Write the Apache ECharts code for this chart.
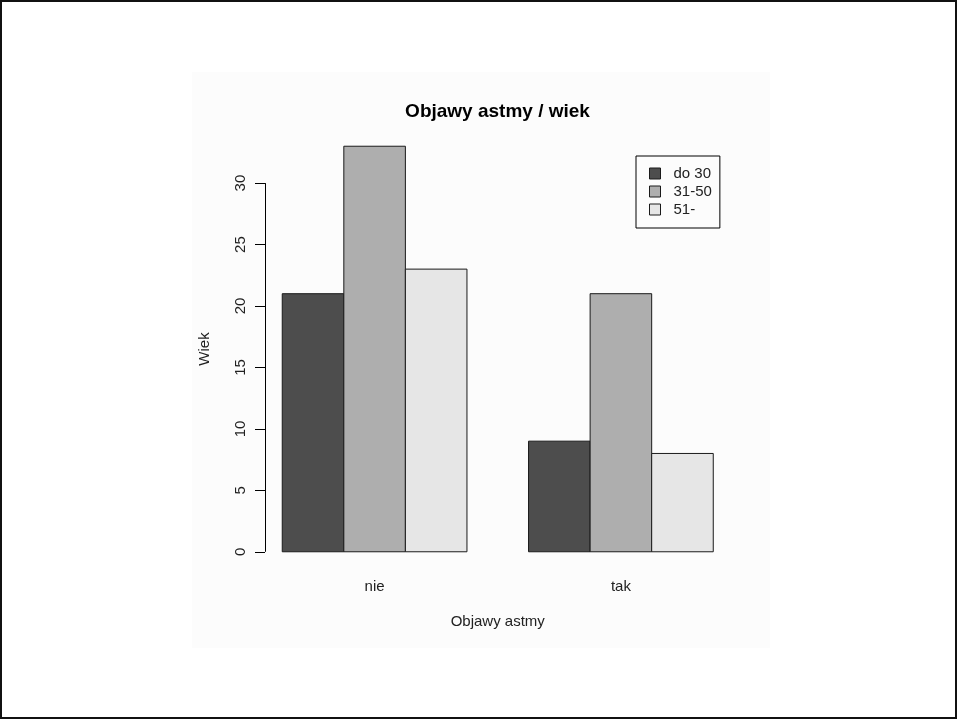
<!DOCTYPE html>
<html>
<head>
<meta charset="utf-8">
<script src="https://cdn.jsdelivr.net/npm/echarts@6/dist/echarts.min.js"></script>
<style>
html,body{margin:0;padding:0;background:#fff;}
#chart{width:957px;height:720px;}
</style>
</head>
<body>
<div id="chart"></div>
<script>
// ---- data ----
var categories = ['nie', 'tak'];
var seriesNames = ['do 30', '31-50', '51-'];
var valuesDo30 = [21, 9];
var values31_50 = [33, 21];
var values51 = [23, 8];
var yTicks = [0, 5, 10, 15, 20, 25, 30];

var seriesValues = [valuesDo30, values31_50, values51];
var colors = ['#4d4d4d', '#aeaeae', '#e6e6e6'];
var font = 'Liberation Sans, Arial, sans-serif';

// R barplot(beside=TRUE) layout in bar-width units: space=c(0,1)
var nSeries = seriesNames.length;
var groupStride = nSeries + 1;
var xMin = 1 - 0.04 * (groupStride * categories.length - 1);
var xMax = groupStride * categories.length + 0.04 * (groupStride * categories.length - 1);
var groupCenters = categories.map(function (c, i) { return 1 + groupStride * i + nSeries / 2; });
var yMaxData = Math.max.apply(null, seriesValues.map(function (a) { return Math.max.apply(null, a); }));
var yMin = -0.04 * yMaxData;
var yMax = yMaxData * 1.04;

var chart = echarts.init(document.getElementById('chart'));

var series = seriesValues.map(function (vals, j) {
  return {
    name: seriesNames[j],
    type: 'custom',
    itemStyle: { color: colors[j], borderColor: '#1a1a1a', borderWidth: 1 },
    data: vals.map(function (v, i) { return [i, v]; }),
    renderItem: function (params, api) {
      var ci = api.value(0);
      var left = 1 + groupStride * ci + j;
      var p0 = api.coord([left, api.value(1)]);
      var p1 = api.coord([left + 1, 0]);
      return {
        type: 'rect',
        shape: { x: p0[0], y: p0[1], width: p1[0] - p0[0], height: p1[1] - p0[1] },
        style: { fill: colors[j], stroke: '#1a1a1a', lineWidth: 1 }
      };
    }
  };
});

// y axis line spanning first to last tick (R style)
series.push({
  name: 'yaxisline',
  type: 'custom',
  silent: true,
  data: [[yTicks[0], yTicks[yTicks.length - 1]]],
  renderItem: function (params, api) {
    var a = api.coord([xMin, api.value(0)]);
    var b = api.coord([xMin, api.value(1)]);
    return {
      type: 'line',
      shape: { x1: Math.round(a[0]) + 0.5, y1: a[1], x2: Math.round(b[0]) + 0.5, y2: b[1] },
      style: { stroke: '#000', lineWidth: 1 }
    };
  }
});

chart.setOption({
  backgroundColor: '#ffffff',
  animation: false,
  graphic: [
    { type: 'rect', z: -10, silent: true, shape: { x: 192, y: 72, width: 578, height: 576 }, style: { fill: '#fcfcfc' } },
    { type: 'rect', z: 100, silent: true, shape: { x: 1, y: 1, width: 955, height: 717 }, style: { fill: 'none', stroke: '#111', lineWidth: 2 } },
    { type: 'text', z: 100, x: 497.5, y: 112, style: { text: 'Objawy astmy / wiek', font: 'bold 19px ' + font, fill: '#000', textAlign: 'center', textVerticalAlign: 'middle' } }
  ],
  legend: {
    orient: 'vertical',
    left: 636,
    top: 156,
    padding: [10, 8, 11, 13],
    itemGap: 3,
    itemWidth: 11,
    itemHeight: 11,
    borderColor: '#000',
    borderWidth: 1,
    icon: 'rect',
    data: seriesNames.map(function (n, j) {
      return { name: n, itemStyle: { color: colors[j], borderColor: '#1a1a1a', borderWidth: 1 } };
    }),
    textStyle: { fontFamily: font, fontSize: 15, color: '#222', lineHeight: 15, padding: [0, 0, 0, 8] }
  },
  grid: { left: 265, right: 226.5, top: 130, bottom: 152, containLabel: false },
  xAxis: {
    type: 'value',
    min: xMin,
    max: xMax,
    splitLine: { show: false },
    axisLine: { show: false },
    axisTick: { show: false },
    axisLabel: {
      customValues: groupCenters,
      margin: 11,
      fontFamily: font, fontSize: 15, color: '#222',
      formatter: function (v) {
        for (var i = 0; i < groupCenters.length; i++) if (Math.abs(groupCenters[i] - v) < 1e-6) return categories[i];
        return '';
      }
    },
    name: 'Objawy astmy',
    nameLocation: 'middle',
    nameGap: 46,
    nameTextStyle: { fontFamily: font, fontSize: 15, color: '#222' }
  },
  yAxis: {
    type: 'value',
    min: yMin,
    max: yMax,
    splitLine: { show: false },
    axisLine: { show: false },
    axisTick: { show: true, length: 10, customValues: yTicks, lineStyle: { color: '#000', width: 1 } },
    axisLabel: {
      customValues: yTicks,
      rotate: 90,
      margin: 17,
      fontFamily: font, fontSize: 15, color: '#222'
    },
    name: 'Wiek',
    nameLocation: 'middle',
    nameGap: 53,
    nameRotate: 90,
    nameTextStyle: { fontFamily: font, fontSize: 15, color: '#222' }
  },
  series: series
});
</script>
</body>
</html>
